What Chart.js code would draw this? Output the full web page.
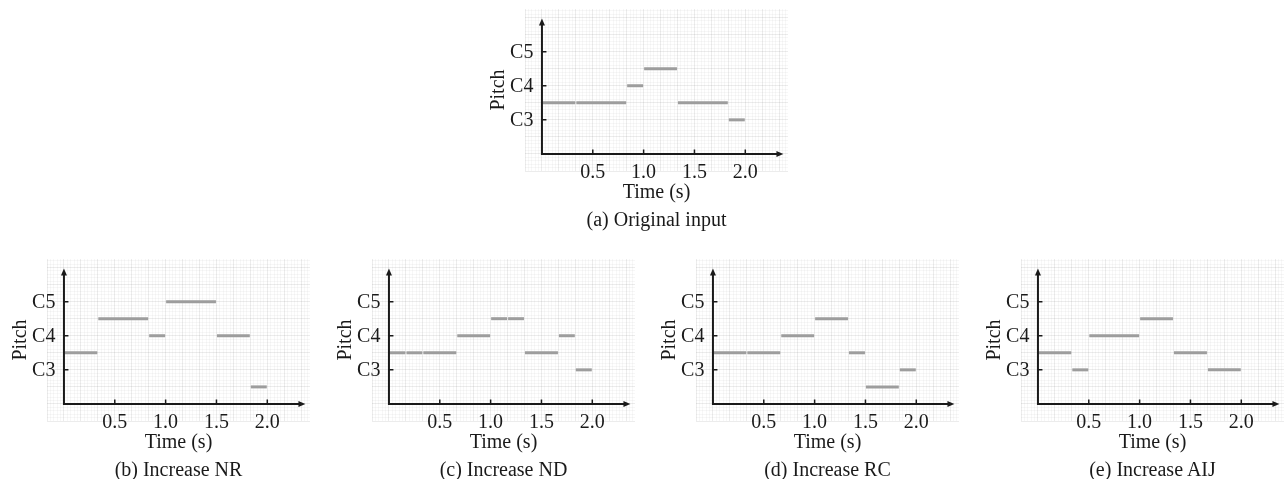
<!DOCTYPE html>
<html>
<head>
<meta charset="utf-8">
<script src="https://cdn.jsdelivr.net/npm/chart.js@4.4.0/dist/chart.umd.min.js"></script>
<style>
  html, body { margin: 0; padding: 0; background: #fff; }
  body { width: 1287px; height: 479px; position: relative; overflow: hidden; }
  .panel { position: absolute; }
  .caption {
    position: absolute;
    font-family: "Liberation Serif", "Times New Roman", serif;
    font-size: 20px;
    line-height: 20px;
    color: #1a1a1a;
    text-align: center;
    white-space: nowrap;
  }
</style>
</head>
<body>
<script>
// tick labels (pitch is in octaves: 3 = C3, 3.5 = half way to C4)
const xTickValues = [0.5, 1.0, 1.5, 2.0];
const xTickLabels = ['0.5', '1.0', '1.5', '2.0'];
const yTickValues = [3, 4, 5];
const yTickLabels = ['C3', 'C4', 'C5'];
const xTitle = 'Time (s)';
const yTitle = 'Pitch';

// (a) Original input
const startsA = [0, 0.333, 0.833, 1.0, 1.333, 1.833];
const endsA   = [0.333, 0.833, 1.0, 1.333, 1.833, 2.0];
const pitchA  = [3.5, 3.5, 4.0, 4.5, 3.5, 3.0];

// (b) Increase NR
const startsB = [0, 0.333, 0.833, 1.0, 1.5, 1.833];
const endsB   = [0.333, 0.833, 1.0, 1.5, 1.833, 2.0];
const pitchB  = [3.5, 4.5, 4.0, 5.0, 4.0, 2.5];

// (c) Increase ND
const startsC = [0, 0.167, 0.333, 0.667, 1.0, 1.167, 1.333, 1.667, 1.833];
const endsC   = [0.167, 0.333, 0.667, 1.0, 1.167, 1.333, 1.667, 1.833, 2.0];
const pitchC  = [3.5, 3.5, 3.5, 4.0, 4.5, 4.5, 3.5, 4.0, 3.0];

// (d) Increase RC
const startsD = [0, 0.333, 0.667, 1.0, 1.333, 1.5, 1.833];
const endsD   = [0.333, 0.667, 1.0, 1.333, 1.5, 1.833, 2.0];
const pitchD  = [3.5, 3.5, 4.0, 4.5, 3.5, 2.5, 3.0];

// (e) Increase AIJ
const startsE = [0, 0.333, 0.5, 1.0, 1.333, 1.667];
const endsE   = [0.333, 0.5, 1.0, 1.333, 1.667, 2.0];
const pitchE  = [3.5, 3.0, 4.0, 4.5, 3.5, 3.0];

const captions = ['(a) Original input', '(b) Increase NR', '(c) Increase ND', '(d) Increase RC', '(e) Increase AIJ'];

// layout: chart area corner of each panel on the page
const panels = [
  { left: 525,  top: 9,   starts: startsA, ends: endsA, pitch: pitchA },
  { left: 47,   top: 259, starts: startsB, ends: endsB, pitch: pitchB },
  { left: 372,  top: 259, starts: startsC, ends: endsC, pitch: pitchC },
  { left: 696,  top: 259, starts: startsD, ends: endsD, pitch: pitchD },
  { left: 1021, top: 259, starts: startsE, ends: endsE, pitch: pitchE }
];

const AREA_W = 263, AREA_H = 162;
const PAD = { left: 46, right: 6, top: 2, bottom: 38 };
const X_MIN = -1 / 6, X_MAX = 2.42, Y_MIN = 1.5, Y_MAX = 6.25;
const X_ARROW = 2.375, Y_ARROW = 5.97, AXIS_Y = 2;
const NOTE_GAP = 0.005;
const FONT = '20px "Liberation Serif", "Times New Roman", serif';
const INK = '#1a1a1a';

const axesPlugin = {
    id: 'pianoAxes',
    afterDatasetsDraw(chart) {
        const { ctx, chartArea } = chart;
        const x = chart.scales.x, y = chart.scales.y;
        const x0 = x.getPixelForValue(0);
        const y0 = y.getPixelForValue(AXIS_Y);
        const xEnd = x.getPixelForValue(X_ARROW);
        const yEnd = y.getPixelForValue(Y_ARROW);

        ctx.save();
        ctx.strokeStyle = INK;
        ctx.fillStyle = INK;

        // axis lines
        ctx.lineWidth = 2;
        ctx.lineJoin = 'miter';
        ctx.beginPath();
        ctx.moveTo(x0, yEnd + 5);
        ctx.lineTo(x0, y0);
        ctx.lineTo(xEnd - 5, y0);
        ctx.stroke();

        // arrow heads
        ctx.beginPath();
        ctx.moveTo(x0, yEnd);
        ctx.lineTo(x0 - 3, yEnd + 7);
        ctx.lineTo(x0 + 3, yEnd + 7);
        ctx.closePath();
        ctx.fill();
        ctx.beginPath();
        ctx.moveTo(xEnd, y0);
        ctx.lineTo(xEnd - 7, y0 - 3);
        ctx.lineTo(xEnd - 7, y0 + 3);
        ctx.closePath();
        ctx.fill();

        // inward tick marks
        ctx.lineWidth = 1.5;
        ctx.beginPath();
        xTickValues.forEach(v => {
            const px = x.getPixelForValue(v);
            ctx.moveTo(px, y0);
            ctx.lineTo(px, y0 - 4.5);
        });
        yTickValues.forEach(v => {
            const py = y.getPixelForValue(v);
            ctx.moveTo(x0, py);
            ctx.lineTo(x0 + 4.5, py);
        });
        ctx.stroke();

        // tick labels
        ctx.font = FONT;
        ctx.textBaseline = 'alphabetic';
        ctx.textAlign = 'center';
        xTickValues.forEach((v, i) => {
            ctx.fillText(xTickLabels[i], x.getPixelForValue(v), y0 + 24);
        });
        ctx.textAlign = 'right';
        yTickValues.forEach((v, i) => {
            ctx.fillText(yTickLabels[i], x0 - 8.5, y.getPixelForValue(v) + 6.6);
        });

        // axis titles
        ctx.textAlign = 'center';
        ctx.fillText(xTitle, (chartArea.left + chartArea.right) / 2, chartArea.top + 189);
        ctx.translate(chartArea.left - 21.5, (chartArea.top + chartArea.bottom) / 2);
        ctx.rotate(-Math.PI / 2);
        ctx.fillText(yTitle, 0, 0);
        ctx.restore();
    }
};

function gridTicks(scale, step, from, to) {
    const ticks = [];
    for (let k = from; k <= to; k++) {
        ticks.push({ value: k / step, isMajor: k % 5 === 0 });
    }
    scale.ticks = ticks;
}

function gridColor(ctx) {
    return ctx.tick && ctx.tick.isMajor ? 'rgba(0,0,0,0.075)' : 'rgba(0,0,0,0.03)';
}

function buildPanel(panel, idx) {
    const wrap = document.createElement('div');
    wrap.className = 'panel';
    wrap.style.left = (panel.left - PAD.left) + 'px';
    wrap.style.top = (panel.top - PAD.top) + 'px';
    const canvas = document.createElement('canvas');
    canvas.width = PAD.left + AREA_W + PAD.right;
    canvas.height = PAD.top + AREA_H + PAD.bottom;
    wrap.appendChild(canvas);
    document.body.appendChild(wrap);

    const cap = document.createElement('div');
    cap.className = 'caption';
    cap.style.left = panel.left + 'px';
    cap.style.width = AREA_W + 'px';
    cap.style.top = (panel.top + 200) + 'px';
    cap.textContent = captions[idx];
    document.body.appendChild(cap);

    const datasets = panel.starts.map((s, i) => ({
        data: [
            { x: s + NOTE_GAP, y: panel.pitch[i] },
            { x: panel.ends[i] - NOTE_GAP, y: panel.pitch[i] }
        ],
        showLine: true,
        borderColor: '#9d9d9d',
        borderWidth: 3,
        borderCapStyle: 'butt',
        pointRadius: 0
    }));

    new Chart(canvas.getContext('2d'), {
        type: 'scatter',
        data: { datasets },
        options: {
            responsive: false,
            animation: false,
            events: [],
            layout: { padding: PAD },
            plugins: { legend: { display: false }, tooltip: { enabled: false } },
            scales: {
                x: {
                    type: 'linear',
                    min: X_MIN,
                    max: X_MAX,
                    afterBuildTicks: s => gridTicks(s, 30, -5, 72),
                    ticks: { display: false },
                    border: { display: false },
                    grid: { color: gridColor, lineWidth: 1, drawTicks: false }
                },
                y: {
                    type: 'linear',
                    min: Y_MIN,
                    max: Y_MAX,
                    afterBuildTicks: s => gridTicks(s, 10, 15, 62),
                    ticks: { display: false },
                    border: { display: false },
                    grid: { color: gridColor, lineWidth: 1, drawTicks: false }
                }
            }
        },
        plugins: [axesPlugin]
    });
}

panels.forEach(buildPanel);
</script>
</body>
</html>
